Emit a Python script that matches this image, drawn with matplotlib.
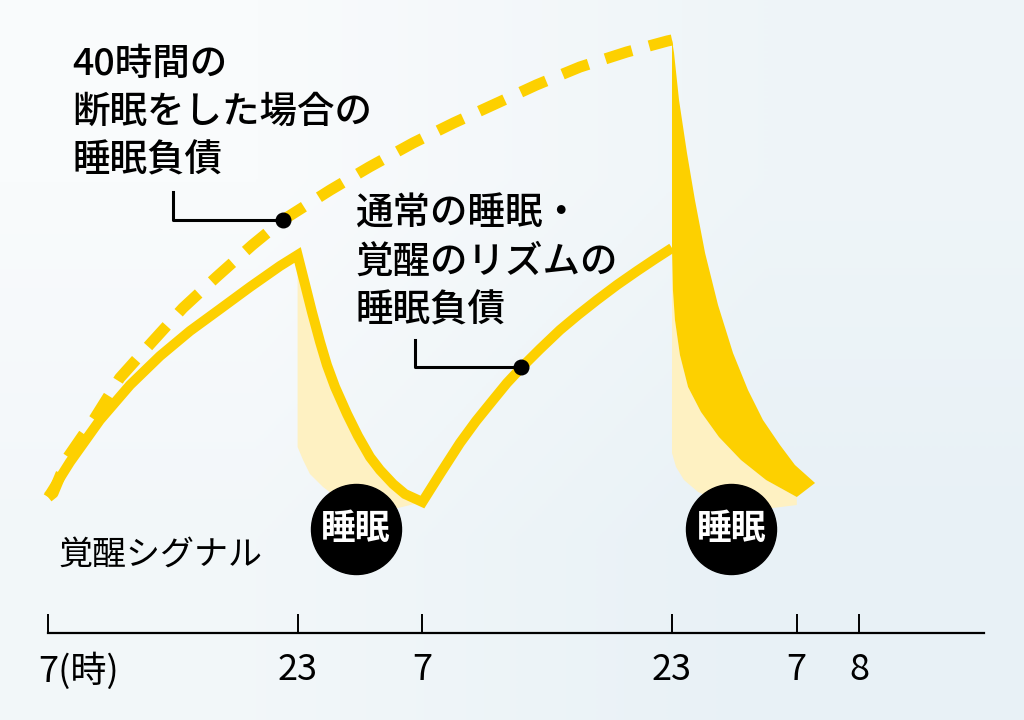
import matplotlib
matplotlib.use("Agg")
import matplotlib.pyplot as plt
import matplotlib.transforms as mtransforms
from matplotlib.colors import LinearSegmentedColormap
import numpy as np

plt.rcParams['font.family'] = ['Noto Sans CJK JP', 'DejaVu Sans']

# 時間軸: 0 = 7時 (1日目), 16 = 23時, 24 = 7時, 40 = 23時, 48 = 7時, 52 = 8時
tick_pos = [0, 16, 24, 40, 48, 52]
tick_labels = ['7(時)', '23', '7', '23', '7', '8']

# 通常の睡眠・覚醒のリズム (実線)
normal_h = [0, 1.41, 3.33, 5.26, 7.18, 9.10, 11.03, 12.95, 14.87, 16.0,
            16.47, 16.92, 17.44, 17.88, 18.40, 19.17, 19.87, 20.64, 21.28,
            22.12, 22.88, 24.0,
            25.13, 26.41, 27.44, 28.53, 29.42, 30.38, 31.54, 32.82, 33.97,
            35.19, 36.47, 37.76, 38.91, 40.0]
normal_v = [136, 171, 213, 248, 277, 302, 324, 346, 367, 378,
            349, 321, 291, 268, 246, 219, 197, 176, 163,
            149, 139, 131,
            159, 190, 212, 233, 250, 266, 284, 303, 318,
            333, 348, 362, 374, 385]

# 40時間の断眠 (破線)
awake_h = [0, 0.32, 1.28, 3.0, 4.6, 6.67, 8.65, 10.8, 13.1, 15.06,
           18.1, 20.6, 23.4, 26.0, 28.8, 31.3, 34.1, 37.1, 39.7, 40.0]
awake_v = [136, 140, 176, 215, 255, 291, 325, 356, 388, 413,
           443, 466, 490, 510, 530, 548, 566, 581, 592, 593]

# 2回目の睡眠: 通常の減少と断眠後の減少
sleep2_h = [40.0, 40.06, 40.19, 40.51, 41.03, 41.86, 43.01, 44.42, 46.03, 48.0]
sleep2_v = [385, 343, 313, 278, 246, 221, 196, 173, 153, 136]
recover_h = [40.0, 40.13, 40.45, 40.96, 41.47, 42.12, 42.95, 43.91, 44.87,
             45.83, 46.92, 47.88, 49.17]
recover_v = [593, 580, 533, 480, 433, 380, 328, 280, 243, 213, 188, 168, 150]

# 睡眠中の薄い影
shade1_h = [16.0, 16.35, 16.79, 17.63, 18.65, 19.81, 20.83, 21.92, 24.0]
shade1_v = [186, 173, 159, 146, 134, 126, 123, 123, 131]
shade2_h = [40.0, 40.26, 40.77, 41.67, 42.88, 44.17, 45.45, 48.0]
shade2_v = [180, 166, 153, 141, 133, 126, 123, 128]

sleep_marks_h = [19.74, 43.8]
sleep_marks_v = [104, 104]

yellow = '#FDD000'
light = '#FEF1C2'

fig = plt.figure(figsize=(10.24, 7.2), dpi=100)
ax = fig.add_axes([0, 0, 1, 1])
ax.set_xlim(-48 / 15.6, (1024 - 48) / 15.6)
ax.set_ylim(-87, 633)

# 背景のグラデーション
grad = np.array([[0.0, 0.6], [0.4, 1.0]])
bg = LinearSegmentedColormap.from_list('bg', ['#F9FBFC', '#E8F1F6'])
ax.imshow(grad, cmap=bg, interpolation='bilinear', aspect='auto',
          extent=[ax.get_xlim()[0], ax.get_xlim()[1], -87, 633], zorder=0)

# 1回目の睡眠の影
i16 = normal_h.index(16.0)
i24 = normal_h.index(24.0)
ax.fill(normal_h[i16:i24 + 1] + shade1_h[::-1],
        normal_v[i16:i24 + 1] + shade1_v[::-1], color=light, lw=0, zorder=1)
# 2回目の睡眠の影
ax.fill(sleep2_h + shade2_h[::-1], sleep2_v + shade2_v[::-1],
        color=light, lw=0, zorder=1)

ax.plot(normal_h, normal_v, color=yellow, lw=7.2, solid_joinstyle='miter',
        solid_capstyle='butt', zorder=3)
ax.plot(awake_h, awake_v, color=yellow, lw=8, linestyle=(0, (2.5, 1.6)),
        dash_capstyle='butt', zorder=3)

# 断眠後の睡眠負債の解消
ax.fill(recover_h + sleep2_h[::-1], recover_v + sleep2_v[::-1],
        color=yellow, lw=0, zorder=3)

# 睡眠マーク
ax.scatter(sleep_marks_h, sleep_marks_v, s=4200, color='black', zorder=5)
for h, v in zip(sleep_marks_h, sleep_marks_v):
    ax.text(h, v, '睡眠', color='white', fontsize=25, fontweight='bold',
            ha='center', va='center', zorder=6)

# 注釈
ax.text(1.54, 521, '40時間の\n断眠をした場合の\n睡眠負債', fontsize=27,
        fontweight='medium', ha='left', va='center', linespacing=1.35)
ax.plot([8.01, 8.01, 15.06], [441, 413, 413], color='black', lw=2.2, zorder=4)
ax.scatter([15.06], [413], s=110, color='black', zorder=4)

ax.text(19.7, 371, '通常の睡眠・\n覚醒のリズムの\n睡眠負債', fontsize=27,
        fontweight='medium', ha='left', va='center', linespacing=1.35)
ax.plot([23.5, 23.5, 30.3], [293, 266, 266], color='black', lw=2.2, zorder=4)
ax.scatter([30.3], [266], s=110, color='black', zorder=4)

ax.text(0.64, 78, '覚醒シグナル', fontsize=24.5, ha='left', va='center')

# 時間軸
for s in ['top', 'left', 'right']:
    ax.spines[s].set_visible(False)
ax.spines['bottom'].set_position(('data', 0))
ax.spines['bottom'].set_bounds(0, 60)
ax.spines['bottom'].set_linewidth(1.6)
ax.set_yticks([])
ax.set_xticks(tick_pos)
ax.set_xticklabels(tick_labels, fontsize=26)
ax.tick_params(axis='x', direction='in', length=14, width=1.4, pad=14)
first = ax.get_xticklabels()[0]
first.set_ha('left')
first.set_transform(first.get_transform() +
                    mtransforms.ScaledTranslation(-10 / 100, 0, fig.dpi_scale_trans))

fig.savefig('out.png', dpi=100)
